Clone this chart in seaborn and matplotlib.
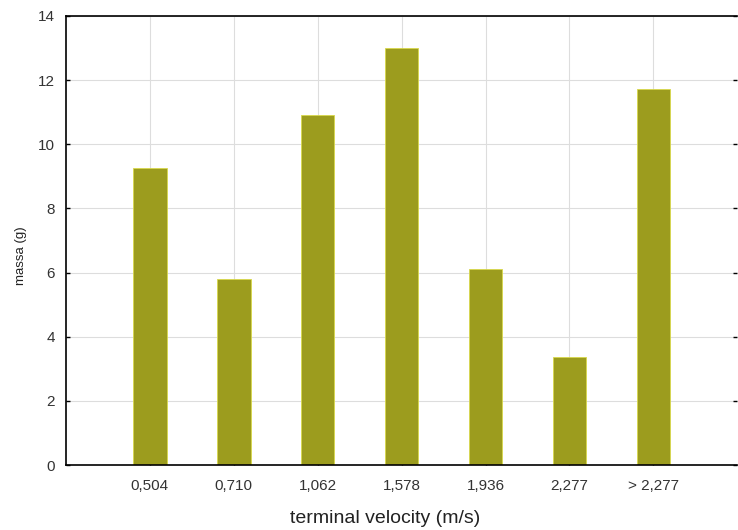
import matplotlib
matplotlib.use("Agg")
import pandas as pd
import seaborn as sns
import matplotlib.pyplot as plt

# values
velocity_labels = ["0,504", "0,710", "1,062", "1,578", "1,936", "2,277", "> 2,277"]
mass_values = [9.25, 5.8, 10.9, 13.0, 6.1, 3.37, 11.72]
y_ticks = [0, 2, 4, 6, 8, 10, 12, 14]

df = pd.DataFrame({"velocity": velocity_labels, "mass": mass_values})

sns.set_style("white")
plt.rcParams["font.family"] = ["Liberation Sans", "DejaVu Sans"]

fig = plt.figure(figsize=(7.38, 5.30), dpi=100)
ax = fig.add_axes([0.0894, 0.1226, 0.9096, 0.8474])

sns.barplot(data=df, x="velocity", y="mass", order=velocity_labels,
            color="#9c9c1e", saturation=1, width=0.4,
            edgecolor="#d8d84a", linewidth=0.6, ax=ax)

ax.set_xlim(-1, len(velocity_labels))
ax.set_ylim(0, 14)
ax.set_yticks(y_ticks)
ax.grid(True, color="#dddddd", linewidth=0.8, linestyle="-")
ax.set_axisbelow(True)

for side in ["left", "top", "bottom"]:
    ax.spines[side].set_visible(True)
    ax.spines[side].set_color("black")
    ax.spines[side].set_linewidth(1.2)
ax.spines["right"].set_visible(False)

ax.tick_params(axis="both", direction="in", length=3, width=1, labelsize=11,
               colors="black", labelcolor="#333333")
ax.tick_params(axis="y", right=True, left=True, pad=8)
ax.tick_params(axis="x", bottom=True, pad=10)

ax.set_xlabel("terminal velocity (m/s)", fontsize=14, color="#222222")
ax.set_ylabel("massa (g)", fontsize=9.5, color="#222222")
# labels sit a little off-centre in the original
ax.xaxis.set_label_coords(0.476, -0.100)
ax.yaxis.set_label_coords(-0.058, 0.465)

fig.savefig("out.png", dpi=100)
